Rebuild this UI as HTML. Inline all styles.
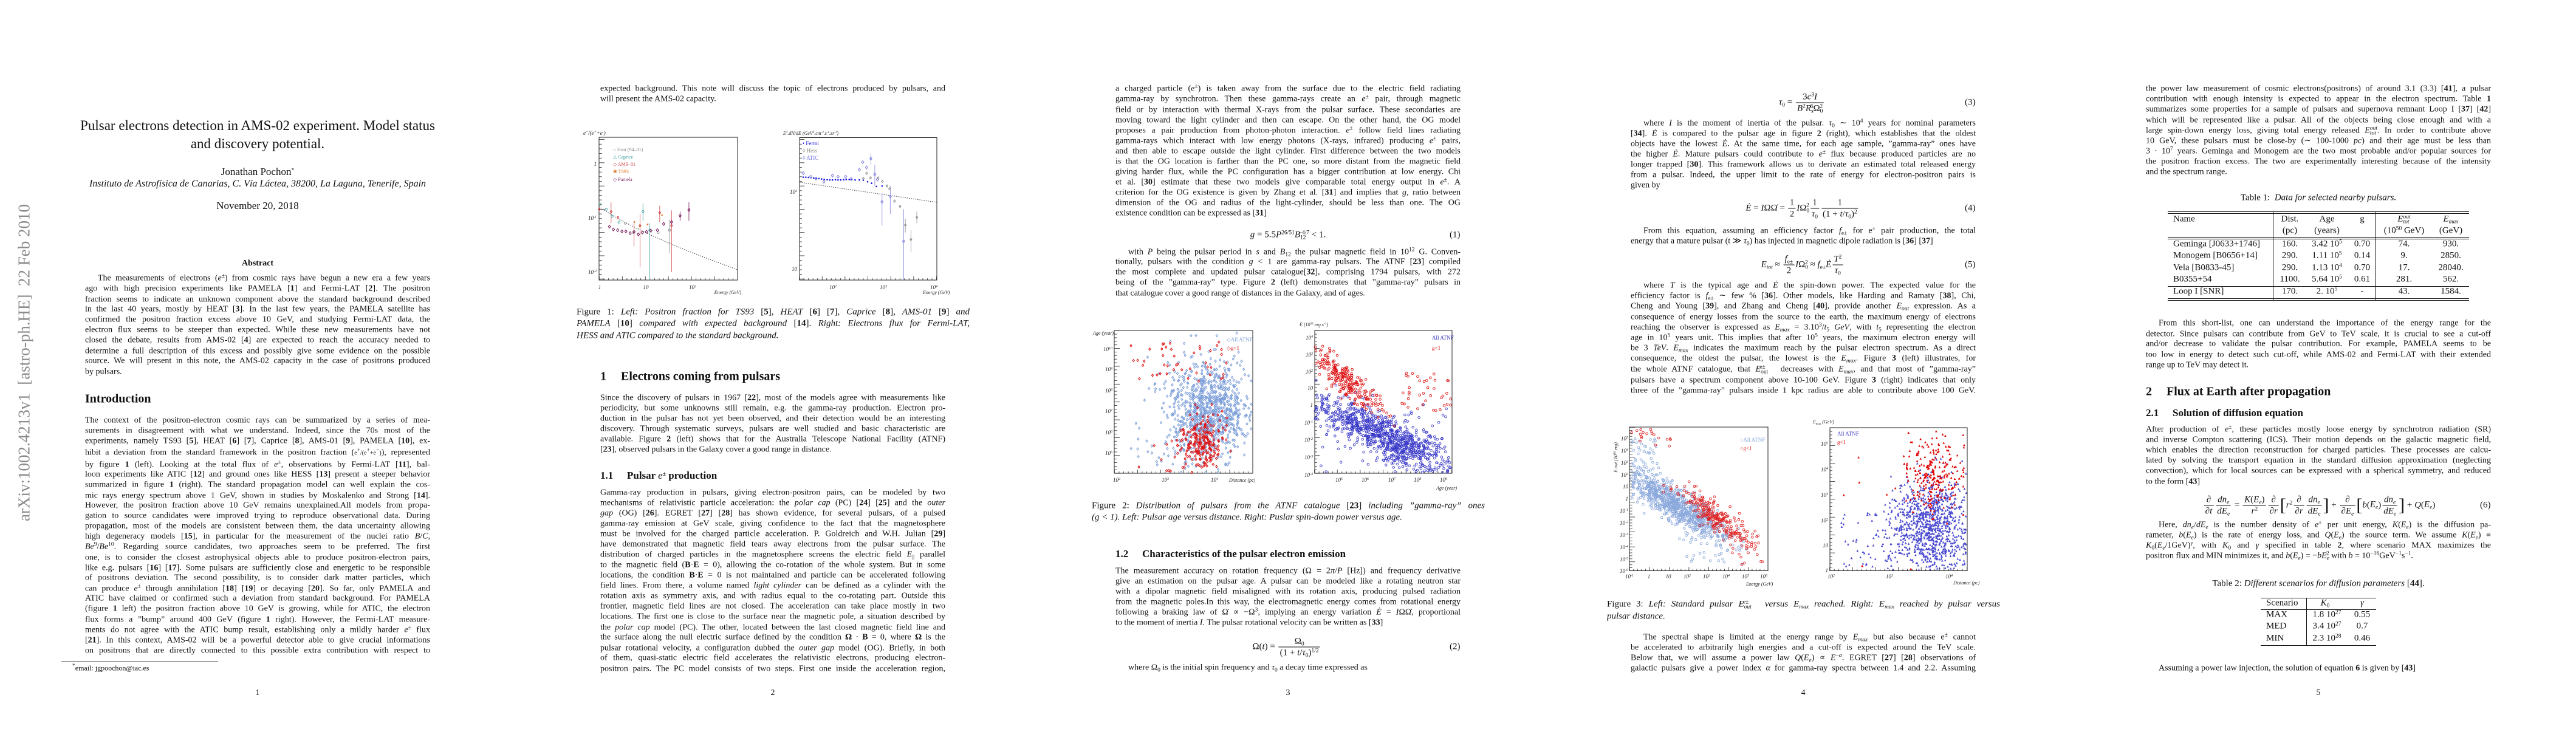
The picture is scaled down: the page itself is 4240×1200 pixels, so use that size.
<!DOCTYPE html>
<html><head><meta charset="utf-8">
<style>
html,body{margin:0;padding:0;background:#fff}
body{width:4240px;height:1200px;position:relative;overflow:hidden;font-family:"Liberation Serif","DejaVu Serif",serif;color:#111;font-size:14px}
.pg{position:absolute;top:0;width:848px;height:1200px}
.l{position:absolute;left:140px;width:568px;height:17px;line-height:17px;transform:translateY(-50%);text-align:justify;text-align-last:justify;overflow:hidden;white-space:normal}
.e{text-align-last:left}
.i{text-indent:21px}
.cap{left:101px;width:647px;font-size:15px;height:19px;line-height:19px}
sup{font-size:9.5px;line-height:0;vertical-align:5px}
sub{font-size:9.5px;line-height:0;vertical-align:-3px}
.c{position:absolute;transform:translate(-50%,-50%);white-space:nowrap}
.t{position:absolute;transform:translateY(-50%);white-space:nowrap}
.h1{font-size:20px;font-weight:bold}
.h2{font-size:17px;font-weight:bold}
.pn{position:absolute;left:424px;top:1141px;transform:translate(-50%,-50%);font-size:14px}
.fr{display:inline-block;vertical-align:middle;text-align:center;line-height:18px;margin:0 2px}
.fr>span{display:block;padding:0 2px}
.fr>span:first-child{border-bottom:1px solid #111}
.hr{position:absolute;height:0;border-top:1px solid #111}
.vr{position:absolute;width:0;border-left:1px solid #111}
.tb{font-size:15px}
svg text{font-family:"Liberation Serif",serif}
</style></head><body>

<!-- PAGE 1 -->
<div class="pg" style="left:0">
<div class="c" style="left:40px;top:597px;transform:translate(-50%,-50%) rotate(-90deg);font-size:27px;color:#8a8a8a">arXiv:1002.4213v1&nbsp;&nbsp;[astro-ph.HE]&nbsp;&nbsp;22 Feb 2010</div>
<div class="c" style="left:424px;top:207px;font-size:23px">Pulsar electrons detection in AMS-02 experiment. Model status</div>
<div class="c" style="left:424px;top:237px;font-size:23px">and discovery potential.</div>
<div class="c" style="left:424px;top:283px;font-size:17px">Jonathan Pochon<sup>*</sup></div>
<div class="c" style="left:424px;top:303px;font-size:16px;font-style:italic">Instituto de Astrofísica de Canarias, C. Vía Láctea, 38200, La Laguna, Tenerife, Spain</div>
<div class="c" style="left:424px;top:339px;font-size:17px">November 20, 2018</div>
<div class="c" style="left:424px;top:434px;font-size:14px;font-weight:bold">Abstract</div>
<div class="l i" style="top:458px">The measurements of electrons (<i>e</i><sup>±</sup>) from cosmic rays have begun a new era a few years</div>
<div class="l" style="top:475px">ago with high precision experiments like PAMELA [<b>1</b>] and Fermi-LAT [<b>2</b>]. The positron</div>
<div class="l" style="top:492.5px">fraction seems to indicate an unknown component above the standard background described</div>
<div class="l" style="top:509px">in the last 40 years, mostly by HEAT [<b>3</b>]. In the last few years, the PAMELA satellite has</div>
<div class="l" style="top:526px">confirmed the positron fraction excess above 10 GeV, and studying Fermi-LAT data, the</div>
<div class="l" style="top:543px">electron flux seems to be steeper than expected. While these new measurements have not</div>
<div class="l" style="top:560px">closed the debate, results from AMS-02 [<b>4</b>] are expected to reach the accuracy needed to</div>
<div class="l" style="top:577.5px">determine a full description of this excess and possibly give some evidence on the possible</div>
<div class="l" style="top:594px">source. We will present in this note, the AMS-02 capacity in the case of positrons produced</div>
<div class="l e" style="top:611.5px">by pulsars.</div>
<div class="t h1" style="left:140px;top:657px">Introduction</div>
<div class="l" style="top:691.8px">The context of the positron-electron cosmic rays can be summarized by a series of mea-</div>
<div class="l" style="top:709px">surements in disagreement with what we understand. Indeed, since the 70s most of the</div>
<div class="l" style="top:726.3px">experiments, namely TS93 [<b>5</b>], HEAT [<b>6</b>] [<b>7</b>], Caprice [<b>8</b>], AMS-01 [<b>9</b>], PAMELA [<b>10</b>], ex-</div>
<div class="l" style="top:745.4px">hibit a deviation from the standard framework in the positron fraction (<span style="font-size:10px">e<sup>+</sup>/(e<sup>+</sup>+e<sup>−</sup>)</span>), represented</div>
<div class="l" style="top:764.6px">by figure <b>1</b> (left). Looking at the total flux of <i>e</i><sup>±</sup>, observations by Fermi-LAT [<b>11</b>], bal-</div>
<div class="l" style="top:781.4px">loon experiments like ATIC [<b>12</b>] and ground ones like HESS [<b>13</b>] present a steeper behavior</div>
<div class="l" style="top:798.2px">summarized in figure <b>1</b> (right). The standard propagation model can well explain the cos-</div>
<div class="l" style="top:815.5px">mic rays energy spectrum above 1 GeV, shown in studies by Moskalenko and Strong [<b>14</b>].</div>
<div class="l" style="top:832.3px">However, the positron fraction above 10 GeV remains unexplained.All models from propa-</div>
<div class="l" style="top:849.1px">gation to source candidates were improved trying to reproduce observational data. During</div>
<div class="l" style="top:866.4px">propagation, most of the models are consistent between them, the data uncertainty allowing</div>
<div class="l" style="top:883.2px">high degeneracy models [<b>15</b>], in particular for the measurement of the nuclei ratio <i>B</i>/<i>C</i>,</div>
<div class="l" style="top:900.4px"><i>Be</i><sup>9</sup>/<i>Be</i><sup>10</sup>. Regarding source candidates, two approaches seem to be preferred. The first</div>
<div class="l" style="top:917.6px">one, is to consider the closest astrophysical objects able to produce positron-electron pairs,</div>
<div class="l" style="top:934.5px">like e.g. pulsars [<b>16</b>] [<b>17</b>]. Some pulsars are sufficiently close and energetic to be responsible</div>
<div class="l" style="top:951.3px">of positrons deviation. The second possibility, is to consider dark matter particles, which</div>
<div class="l" style="top:968.5px">can produce <i>e</i><sup>±</sup> through annihilation [<b>18</b>] [<b>19</b>] or decaying [<b>20</b>]. So far, only PAMELA and</div>
<div class="l" style="top:985.4px">ATIC have claimed or confirmed such a deviation from standard background. For PAMELA</div>
<div class="l" style="top:1002.2px">(figure <b>1</b> left) the positron fraction above 10 GeV is growing, while for ATIC, the electron</div>
<div class="l" style="top:1019.8px">flux forms a ”bump” around 400 GeV (figure <b>1</b> right). However, the Fermi-LAT measure-</div>
<div class="l" style="top:1036.7px">ments do not agree with the ATIC bump result, establishing only a mildly harder <i>e</i><sup>±</sup> flux</div>
<div class="l" style="top:1053.5px">[<b>21</b>]. In this context, AMS-02 will be a powerful detector able to give crucial informations</div>
<div class="l" style="top:1070.7px">on positrons that are directly connected to this possible extra contribution with respect to</div>
<div class="hr" style="left:101px;width:258px;top:1089px;border-top-width:1.5px"></div>
<div class="t" style="left:119px;top:1100px;font-size:12px"><sup>*</sup>email: jgpoochon@iac.es</div>
<div class="pn">1</div>
</div>

<!-- PAGE 2 -->
<div class="pg" style="left:848px">
<div class="l" style="top:146px">expected background. This note will discuss the topic of electrons produced by pulsars, and</div>
<div class="l e" style="top:163.4px">will present the AMS-02 capacity.</div>
<div class="l cap" style="top:514px">Figure 1: <i>Left: Positron fraction for TS93</i> [<b>5</b>], <i>HEAT</i> [<b>6</b>] [<b>7</b>], <i>Caprice</i> [<b>8</b>], <i>AMS-01</i> [<b>9</b>] <i>and</i></div>
<div class="l cap" style="top:533px"><i>PAMELA</i> [<b>10</b>] <i>compared with expected background</i> [<b>14</b>]. <i>Right: Electrons flux for Fermi-LAT,</i></div>
<div class="l cap e" style="top:553px"><i>HESS and ATIC compared to the standard background.</i></div>
<div class="t h1" style="left:140px;top:620px">1</div><div class="t h1" style="left:174px;top:620px">Electrons coming from pulsars</div>
<div class="l" style="top:654.7px">Since the discovery of pulsars in 1967 [<b>22</b>], most of the models agree with measurements like</div>
<div class="l" style="top:672px">periodicity, but some unknowns still remain, e.g. the gamma-ray production. Electron pro-</div>
<div class="l" style="top:688.8px">duction in the pulsar has not yet been observed, and their detection would be an interesting</div>
<div class="l" style="top:706px">discovery. Through systematic surveys, pulsars are well studied and basic characteristic are</div>
<div class="l" style="top:722.8px">available. Figure <b>2</b> (left) shows that for the Australia Telescope National Facility (ATNF)</div>
<div class="l e" style="top:740px">[<b>23</b>], observed pulsars in the Galaxy cover a good range in distance.</div>
<div class="t h2" style="left:140px;top:782.5px">1.1</div><div class="t h2" style="left:184px;top:782.5px">Pulsar <i style="font-weight:normal">e</i><sup>±</sup> production</div>
<div class="l" style="top:810.9px">Gamma-ray production in pulsars, giving electron-positron pairs, can be modeled by two</div>
<div class="l" style="top:828.1px">mechanisms of relativistic particle acceleration: the <i>polar cap</i> (PC) [<b>24</b>] [<b>25</b>] and the <i>outer</i></div>
<div class="l" style="top:844.9px"><i>gap</i> (OG) [<b>26</b>]. EGRET [<b>27</b>] [<b>28</b>] has shown evidence, for several pulsars, of a pulsed</div>
<div class="l" style="top:862.2px">gamma-ray emission at GeV scale, giving confidence to the fact that the magnetosphere</div>
<div class="l" style="top:879px">must be involved for the charged particle acceleration. P. Goldreich and W.H. Julian [<b>29</b>]</div>
<div class="l" style="top:895.8px">have demonstrated that magnetic field tears away electrons from the pulsar surface. The</div>
<div class="l" style="top:913px">distribution of charged particles in the magnetosphere screens the electric field <i>E</i><sub>||</sub> parallel</div>
<div class="l" style="top:929.9px">to the magnetic field (<b>B</b>·<b>E</b> = 0), allowing the co-rotation of the whole system. But in some</div>
<div class="l" style="top:947.1px">locations, the condition <b>B</b>·<b>E</b> = 0 is not maintained and particle can be accelerated following</div>
<div class="l" style="top:964px">field lines. From there, a volume named <i>light cylinder</i> can be defined as a cylinder with the</div>
<div class="l" style="top:981.2px">rotation axis as symmetry axis, and with radius equal to the co-rotating part. Outside this</div>
<div class="l" style="top:998.4px">frontier, magnetic field lines are not closed. The acceleration can take place mostly in two</div>
<div class="l" style="top:1015.2px">locations. The first one is close to the surface near the magnetic pole, a situation described by</div>
<div class="l" style="top:1032.5px">the <i>polar cap</i> model (PC). The other, located between the last closed magnetic field line and</div>
<div class="l" style="top:1049.3px">the surface along the null electric surface defined by the condition <b>Ω</b> · <b>B</b> = 0, where <b>Ω</b> is the</div>
<div class="l" style="top:1066.5px">pulsar rotational velocity, a configuration dubbed the <i>outer gap</i> model (OG). Briefly, in both</div>
<div class="l" style="top:1083.4px">of them, quasi-static electric field accelerates the relativistic electrons, producing electron-</div>
<div class="l" style="top:1100.6px">positron pairs. The PC model consists of two steps. First one inside the acceleration region,</div>
<div class="pn">2</div>
</div>

<!-- PAGE 3 -->
<div class="pg" style="left:1696px">
<div class="l" style="top:146.2px">a charged particle (<i>e</i><sup>±</sup>) is taken away from the surface due to the electric field radiating</div>
<div class="l" style="top:163.4px">gamma-ray by synchrotron. Then these gamma-rays create an <i>e</i><sup>±</sup> pair, through magnetic</div>
<div class="l" style="top:180.6px">field or by interaction with thermal X-rays from the pulsar surface. These secondaries are</div>
<div class="l" style="top:197.9px">moving toward the light cylinder and then can escape. On the other hand, the OG model</div>
<div class="l" style="top:214.7px">proposes a pair production from photon-photon interaction. <i>e</i><sup>±</sup> follow field lines radiating</div>
<div class="l" style="top:231.9px">gamma-rays which interact with low energy photons (X-rays, infrared) producing <i>e</i><sup>±</sup> pairs,</div>
<div class="l" style="top:248.8px">and then able to escape outside the light cylinder. First difference between the two models</div>
<div class="l" style="top:265.6px">is that the OG location is farther than the PC one, so more distant from the magnetic field</div>
<div class="l" style="top:282.8px">giving harder flux, while the PC configuration has a bigger contribution at low energy. Chi</div>
<div class="l" style="top:300px">et al. [<b>30</b>] estimate that these two models give comparable total energy output in <i>e</i><sup>±</sup>. A</div>
<div class="l" style="top:316.9px">criterion for the OG existence is given by Zhang et al. [<b>31</b>] and implies that <i>g</i>, ratio between</div>
<div class="l" style="top:333.7px">dimension of the OG and radius of the light-cylinder, should be less than one. The OG</div>
<div class="l e" style="top:350.9px">existence condition can be expressed as [<b>31</b>]</div>
<div class="c" style="left:424px;top:386.5px;font-size:15px"><i>g</i> = 5.5<i>P</i><sup>26/51</sup><i>B</i><sub>12</sub><sup style="margin-left:-12px">−4/7</sup> &lt; 1.</div>
<div class="t" style="left:690px;top:386.5px;font-size:15px">(1)</div>
<div class="l i" style="top:414.5px">with <i>P</i> being the pulsar period in <i>s</i> and <i>B</i><sub>12</sub> the pulsar magnetic field in 10<sup>12</sup> G. Conven-</div>
<div class="l" style="top:431.3px">tionally, pulsars with the condition <i>g</i> &lt; 1 are gamma-ray pulsars. The ATNF [<b>23</b>] compiled</div>
<div class="l" style="top:448.1px">the most complete and updated pulsar catalogue[<b>32</b>], comprising 1794 pulsars, with 272</div>
<div class="l" style="top:465.4px">being of the ”gamma-ray” type. Figure <b>2</b> (left) demonstrates that ”gamma-ray” pulsars in</div>
<div class="l e" style="top:482.6px">that catalogue cover a good range of distances in the Galaxy, and of ages.</div>
<div class="l cap" style="top:833px">Figure 2: <i>Distribution of pulsars from the ATNF catalogue</i> [<b>23</b>] <i>including ”gamma-ray” ones</i></div>
<div class="l cap e" style="top:852px"><i>(g &lt; 1). Left: Pulsar age versus distance. Right: Puslar spin-down power versus age.</i></div>
<div class="t h2" style="left:140px;top:912px">1.2</div><div class="t h2" style="left:184px;top:912px">Characteristics of the pulsar electron emission</div>
<div class="l" style="top:939.8px">The measurement accuracy on rotation frequency (Ω = 2<i>π</i>/<i>P</i> [Hz]) and frequency derivative</div>
<div class="l" style="top:957px">give an estimation on the pulsar age. A pulsar can be modeled like a rotating neutron star</div>
<div class="l" style="top:973.9px">with a dipolar magnetic field misaligned with its rotation axis, producing pulsed radiation</div>
<div class="l" style="top:991.1px">from the magnetic poles.In this way, the electromagnetic energy comes from rotational energy</div>
<div class="l" style="top:1008px">following a braking law of Ω̇ ∝ −Ω<sup>3</sup>, implying an energy variation <i>Ė</i> = <i>I</i>ΩΩ̇, proportional</div>
<div class="l e" style="top:1025.2px">to the moment of inertia <i>I</i>. The pulsar rotational velocity can be written as [<b>33</b>]</div>
<div class="c" style="left:422px;top:1065px;font-size:15px">Ω(<i>t</i>) = <span class="fr"><span>Ω<sub>0</sub></span><span>(1 + <i>t</i>/<i>τ</i><sub>0</sub>)<sup>1/2</sup></span></span></div>
<div class="t" style="left:690px;top:1065px;font-size:15px">(2)</div>
<div class="l i e" style="top:1099.4px">where Ω<sub>0</sub> is the initial spin frequency and <i>τ</i><sub>0</sub> a decay time expressed as</div>
<div class="pn">3</div>
</div>

<!-- PAGE 4 -->
<div class="pg" style="left:2544px">
<div class="c" style="left:422px;top:169px;font-size:15px"><i>τ</i><sub>0</sub> = <span class="fr"><span>3<i>c</i><sup>3</sup><i>I</i></span><span><i>B</i><sup>2</sup><i>R</i><sub>s</sub><sup style="margin-left:-5px">6</sup>Ω<sub>0</sub><sup style="margin-left:-5px">2</sup></span></span></div>
<div class="t" style="left:690px;top:169px;font-size:15px">(3)</div>
<div class="l i" style="top:202.8px">where <i>I</i> is the moment of inertia of the pulsar. <i>τ</i><sub>0</sub> ∼ 10<sup>4</sup> years for nominal parameters</div>
<div class="l" style="top:220px">[<b>34</b>]. <i>Ė</i> is compared to the pulsar age in figure <b>2</b> (right), which establishes that the oldest</div>
<div class="l" style="top:237.3px">objects have the lowest <i>Ė</i>. At the same time, for each age sample, ”gamma-ray” ones have</div>
<div class="l" style="top:254.1px">the higher <i>Ė</i>. Mature pulsars could contribute to <i>e</i><sup>±</sup> flux because produced particles are no</div>
<div class="l" style="top:271.3px">longer trapped [<b>30</b>]. This framework allows us to derivate an estimated total released energy</div>
<div class="l" style="top:288.2px">from a pulsar. Indeed, the upper limit to the rate of energy for electron-positron pairs is</div>
<div class="l e" style="top:305px">given by</div>
<div class="c" style="left:423px;top:342.5px;font-size:15px"><i>Ė</i> = <i>I</i>ΩΩ̇ = <span class="fr"><span>1</span><span>2</span></span><i>I</i>Ω<sub>0</sub><sup style="margin-left:-5px">2</sup><span class="fr"><span>1</span><span><i>τ</i><sub>0</sub></span></span><span class="fr"><span>1</span><span>(1 + <i>t</i>/<i>τ</i><sub>0</sub>)<sup>2</sup></span></span></div>
<div class="t" style="left:690px;top:342.5px;font-size:15px">(4)</div>
<div class="l i" style="top:379.6px">From this equation, assuming an efficiency factor <i>f</i><sub>e±</sub> for e<sup>±</sup> pair production, the total</div>
<div class="l e" style="top:396.5px">energy that a mature pulsar (t ≫ <i>τ</i><sub>0</sub>) has injected in magnetic dipole radiation is [<b>36</b>] [<b>37</b>]</div>
<div class="c" style="left:423px;top:436.3px;font-size:15px"><i>E<sub>tot</sub></i> ≈ <span class="fr"><span><i>f</i><sub>e±</sub></span><span>2</span></span><i>I</i>Ω<sub>0</sub><sup style="margin-left:-5px">2</sup> ≈ <i>f</i><sub>e±</sub><i>Ė</i><span class="fr"><span><i>T</i><sup>2</sup></span><span><i>τ</i><sub>0</sub></span></span></div>
<div class="t" style="left:690px;top:436.3px;font-size:15px">(5)</div>
<div class="l i" style="top:470.3px">where <i>T</i> is the typical age and <i>Ė</i> the spin-down power. The expected value for the</div>
<div class="l" style="top:487.2px">efficiency factor is <i>f</i><sub>e±</sub> ∼ few % [<b>36</b>]. Other models, like Harding and Ramaty [<b>38</b>], Chi,</div>
<div class="l" style="top:504.4px">Cheng and Young [<b>39</b>], and Zhang and Cheng [<b>40</b>], provide another <i>E<sub>out</sub></i> expression. As a</div>
<div class="l" style="top:521.6px">consequence of energy losses from the source to the earth, the maximum energy of electrons</div>
<div class="l" style="top:538.5px">reaching the observer is expressed as <i>E<sub>max</sub></i> = 3.10<sup>3</sup>/<i>t</i><sub>5</sub> <i>GeV</i>, with <i>t</i><sub>5</sub> representing the electron</div>
<div class="l" style="top:555.7px">age in 10<sup>5</sup> years unit. This implies that after 10<sup>5</sup> years, the maximum electron energy will</div>
<div class="l" style="top:572.5px">be 3 <i>TeV</i>. <i>E<sub>max</sub></i> indicates the maximum reach by the pulsar electron spectrum. As a direct</div>
<div class="l" style="top:589.7px">consequence, the oldest the pulsar, the lowest is the <i>E<sub>max</sub></i>. Figure <b>3</b> (left) illustrates, for</div>
<div class="l" style="top:608.4px">the whole ATNF catalogue, that <i>E</i><sub>out</sub><sup style="margin-left:-14px">e±</sup>&nbsp;&nbsp; decreases with <i>E<sub>max</sub></i>, and that most of ”gamma-ray”</div>
<div class="l" style="top:625.6px">pulsars have a spectrum component above 10-100 GeV. Figure <b>3</b> (right) indicates that only</div>
<div class="l" style="top:642.5px">three of the ”gamma-ray” pulsars inside 1 kpc radius are able to contribute above 100 GeV.</div>
<div class="l cap" style="top:995px">Figure 3: <i>Left: Standard pulsar E</i><sub><i>out</i></sub><sup style="margin-left:-14px"><i>e±</i></sup>&nbsp;&nbsp; <i>versus E<sub>max</sub> reached. Right: E<sub>max</sub> reached by pulsar versus</i></div>
<div class="l cap e" style="top:1014.5px"><i>pulsar distance.</i></div>
<div class="l i" style="top:1048.5px">The spectral shape is limited at the energy range by <i>E<sub>max</sub></i> but also because e<sup>±</sup> cannot</div>
<div class="l" style="top:1065.7px">be accelerated to arbitrarily high energies and a cut-off is expected around the TeV scale.</div>
<div class="l" style="top:1083px">Below that, we will assume a power law <i>Q</i>(<i>E<sub>e</sub></i>) ∝ <i>E</i><sup>−<i>α</i></sup>. EGRET [<b>27</b>] [<b>28</b>] observations of</div>
<div class="l" style="top:1099.8px">galactic pulsars give a power index <i>α</i> for gamma-ray spectra between 1.4 and 2.2. Assuming</div>
<div class="pn">4</div>
</div>

<!-- PAGE 5 -->
<div class="pg" style="left:3392px">
<div class="l" style="top:146.2px">the power law measurement of cosmic electrons(positrons) of around 3.1 (3.3) [<b>41</b>], a pulsar</div>
<div class="l" style="top:163.4px">contribution with enough intensity is expected to appear in the electron spectrum. Table <b>1</b></div>
<div class="l" style="top:180.3px">summarizes some properties for a sample of pulsars and supernova remnant Loop I [<b>37</b>] [<b>42</b>]</div>
<div class="l" style="top:197.5px">which will be represented like a pulsar. All of the objects being close enough and with a</div>
<div class="l" style="top:214.7px">large spin-down energy loss, giving total energy released <i>E</i><sub><i>tot</i></sub><sup style="margin-left:-10px"><i>out</i></sup>. In order to contribute above</div>
<div class="l" style="top:231.5px">10 GeV, these pulsars must be close-by (∼ 100-1000 <i>pc</i>) and their age must be less than</div>
<div class="l" style="top:248.8px">3 · 10<sup>7</sup> years. Geminga and Monogem are the two most probable and/or popular sources for</div>
<div class="l" style="top:265.6px">the positron fraction excess. The two are experimentally interesting because of the intensity</div>
<div class="l e" style="top:282.8px">and the spectrum range.</div>
<div class="c" style="left:424px;top:326px;font-size:15px">Table 1:&nbsp; <i>Data for selected nearby pulsars.</i></div>
<div class="hr" style="left:176px;width:496px;top:348px"></div>
<div class="hr" style="left:176px;width:496px;top:351px"></div>
<div class="hr" style="left:176px;width:496px;top:390px"></div>
<div class="hr" style="left:176px;width:496px;top:393px"></div>
<div class="hr" style="left:176px;width:496px;top:470.5px"></div>
<div class="hr" style="left:176px;width:496px;top:491px"></div>
<div class="hr" style="left:176px;width:496px;top:494px"></div>
<div class="vr" style="left:349px;top:348px;height:146px"></div>
<div class="vr" style="left:518px;top:348px;height:146px"></div>
<div class="tb">
<div class="t" style="left:185px;top:360.5px">Name</div>
<div class="c" style="left:377px;top:360.5px">Dist.</div><div class="c" style="left:438px;top:360.5px">Age</div><div class="c" style="left:496px;top:360.5px">g</div><div class="c" style="left:565px;top:360.5px"><i>E</i><sub><i>tot</i></sub><sup style="margin-left:-10px"><i>out</i></sup></div><div class="c" style="left:642px;top:360.5px"><i>E<sub>max</sub></i></div>
<div class="c" style="left:377px;top:379.6px">(pc)</div><div class="c" style="left:438px;top:379.6px">(years)</div><div class="c" style="left:565px;top:379.6px">(10<sup>50</sup> GeV)</div><div class="c" style="left:642px;top:379.6px">(GeV)</div>
<div class="t" style="left:185px;top:401.8px">Geminga [J0633+1746]</div><div class="c" style="left:377px;top:401.8px">160.</div><div class="c" style="left:438px;top:401.8px">3.42 10<sup>5</sup></div><div class="c" style="left:496px;top:401.8px">0.70</div><div class="c" style="left:565px;top:401.8px">74.</div><div class="c" style="left:642px;top:401.8px">930.</div>
<div class="t" style="left:185px;top:421px">Monogem [B0656+14]</div><div class="c" style="left:377px;top:421px">290.</div><div class="c" style="left:438px;top:421px">1.11 10<sup>5</sup></div><div class="c" style="left:496px;top:421px">0.14</div><div class="c" style="left:565px;top:421px">9.</div><div class="c" style="left:642px;top:421px">2850.</div>
<div class="t" style="left:185px;top:441px">Vela [B0833-45]</div><div class="c" style="left:377px;top:441px">290.</div><div class="c" style="left:438px;top:441px">1.13 10<sup>4</sup></div><div class="c" style="left:496px;top:441px">0.70</div><div class="c" style="left:565px;top:441px">17.</div><div class="c" style="left:642px;top:441px">28040.</div>
<div class="t" style="left:185px;top:460px">B0355+54</div><div class="c" style="left:377px;top:460px">1100.</div><div class="c" style="left:438px;top:460px">5.64 10<sup>5</sup></div><div class="c" style="left:496px;top:460px">0.61</div><div class="c" style="left:565px;top:460px">281.</div><div class="c" style="left:642px;top:460px">562.</div>
<div class="t" style="left:185px;top:479.5px">Loop I [SNR]</div><div class="c" style="left:377px;top:479.5px">170.</div><div class="c" style="left:438px;top:479.5px">2. 10<sup>5</sup></div><div class="c" style="left:496px;top:479.5px">-</div><div class="c" style="left:565px;top:479.5px">43.</div><div class="c" style="left:642px;top:479.5px">1584.</div>
</div>
<div class="l i" style="top:532.3px">From this short-list, one can understand the importance of the energy range for the</div>
<div class="l" style="top:549.6px">detector. Since pulsars can contribute from GeV to TeV scale, it is crucial to see a cut-off</div>
<div class="l" style="top:566.4px">and/or decrease to validate the pulsar contribution. For example, PAMELA seems to be</div>
<div class="l" style="top:583.6px">too low in energy to detect such cut-off, while AMS-02 and Fermi-LAT with their extended</div>
<div class="l e" style="top:600.8px">range up to TeV may detect it.</div>
<div class="t h1" style="left:140px;top:645px">2</div><div class="t h1" style="left:174px;top:645px">Flux at Earth after propagation</div>
<div class="t h2" style="left:140px;top:679.6px">2.1</div><div class="t h2" style="left:184px;top:679.6px">Solution of diffusion equation</div>
<div class="l" style="top:707px">After production of <i>e</i><sup>±</sup>, these particles mostly loose energy by synchrotron radiation (SR)</div>
<div class="l" style="top:724.4px">and inverse Compton scattering (ICS). Their motion depends on the galactic magnetic field,</div>
<div class="l" style="top:741.2px">which enables the direction reconstruction for charged particles. These processes are calcu-</div>
<div class="l" style="top:758.4px">lated by solving the transport equation in the standard diffusion approximation (neglecting</div>
<div class="l" style="top:775.3px">convection), which for local sources can be expressed with a spherical symmetry, and reduced</div>
<div class="l e" style="top:792.5px">to the form [<b>43</b>]</div>
<div class="c" style="left:425px;top:831.5px;font-size:15px"><span class="fr"><span>∂</span><span>∂<i>t</i></span></span><span class="fr"><span><i>dn<sub>e</sub></i></span><span><i>dE<sub>e</sub></i></span></span> = <span class="fr"><span><i>K</i>(<i>E<sub>e</sub></i>)</span><span><i>r</i><sup>2</sup></span></span><span class="fr"><span>∂</span><span>∂<i>r</i></span></span><span style="font-size:30px;vertical-align:middle">[</span><i>r</i><sup>2</sup><span class="fr"><span>∂</span><span>∂<i>r</i></span></span><span class="fr"><span><i>dn<sub>e</sub></i></span><span><i>dE<sub>e</sub></i></span></span><span style="font-size:30px;vertical-align:middle">]</span> + <span class="fr"><span>∂</span><span>∂<i>E<sub>e</sub></i></span></span><span style="font-size:30px;vertical-align:middle">[</span><i>b</i>(<i>E<sub>e</sub></i>)<span class="fr"><span><i>dn<sub>e</sub></i></span><span><i>dE<sub>e</sub></i></span></span><span style="font-size:30px;vertical-align:middle">]</span> + <i>Q</i>(<i>E<sub>e</sub></i>)</div>
<div class="t" style="left:690px;top:831.5px;font-size:15px">(6)</div>
<div class="l i" style="top:864px">Here, <i>dn<sub>e</sub></i>/<i>dE<sub>e</sub></i> is the number density of <i>e</i><sup>±</sup> per unit energy, <i>K</i>(<i>E<sub>e</sub></i>) is the diffusion pa-</div>
<div class="l" style="top:881.3px">rameter, <i>b</i>(<i>E<sub>e</sub></i>) is the rate of energy loss, and <i>Q</i>(<i>E<sub>e</sub></i>) the source term. We assume <i>K</i>(<i>E<sub>e</sub></i>) ≡</div>
<div class="l" style="top:898px"><i>K</i><sub>0</sub>(<i>E<sub>e</sub></i>/1GeV)<sup><i>γ</i></sup>, with <i>K</i><sub>0</sub> and <i>γ</i> specified in table <b>2</b>, where scenario MAX maximizes the</div>
<div class="l e" style="top:915.3px">positron flux and MIN minimizes it, and <i>b</i>(<i>E<sub>e</sub></i>) = −<i>bE</i><sub><i>e</i></sub><sup style="margin-left:-5px">2</sup> with <i>b</i> = 10<sup>−16</sup>GeV<sup>−1</sup>s<sup>−1</sup>.</div>
<div class="c" style="left:424px;top:960.5px;font-size:15px">Table 2: <i>Different scenarios for diffusion parameters</i> [<b>44</b>].</div>
<div class="hr" style="left:329px;width:190px;top:983.5px"></div>
<div class="hr" style="left:329px;width:190px;top:1003px"></div>
<div class="hr" style="left:329px;width:190px;top:1062px"></div>
<div class="vr" style="left:404px;top:983.5px;height:78.5px"></div>
<div class="tb">
<div class="t" style="left:338px;top:992.5px">Scenario</div><div class="c" style="left:435px;top:992.5px"><i>K</i><sub>0</sub></div><div class="c" style="left:496px;top:992.5px"><i>γ</i></div>
<div class="t" style="left:338px;top:1012px">MAX</div><div class="c" style="left:438px;top:1012px">1.8 10<sup>27</sup></div><div class="c" style="left:496px;top:1012px">0.55</div>
<div class="t" style="left:338px;top:1031px">MED</div><div class="c" style="left:438px;top:1031px">3.4 10<sup>27</sup></div><div class="c" style="left:496px;top:1031px">0.7</div>
<div class="t" style="left:338px;top:1051px">MIN</div><div class="c" style="left:438px;top:1051px">2.3 10<sup>28</sup></div><div class="c" style="left:496px;top:1051px">0.46</div>
</div>
<div class="l i e" style="top:1100px">Assuming a power law injection, the solution of equation <b>6</b> is given by [<b>43</b>]</div>
<div class="pn">5</div>
</div>

<!-- PLOTS -->
<svg id="sv" width="4240" height="1200" viewBox="0 0 4240 1200" style="position:absolute;left:0;top:0" xmlns="http://www.w3.org/2000/svg">
<g fill="none" stroke="#222" stroke-width="1">
<rect x="986" y="226" width="228" height="235"/>
<rect x="1316" y="226.5" width="226" height="234.5"/>
<rect x="1834" y="544" width="228" height="235"/>
<rect x="2164" y="544" width="226" height="235"/>
<rect x="2682" y="703" width="228" height="236.5"/>
<rect x="3012" y="704" width="226" height="235.5"/>
</g>
<g font-size="9" font-style="italic" fill="#222">
<text x="960" y="222">e<tspan font-size="6" dy="-3">+</tspan><tspan dy="3">/(e</tspan><tspan font-size="6" dy="-3">+</tspan><tspan dy="3">+e</tspan><tspan font-size="6" dy="-3">-</tspan><tspan dy="3">)</tspan></text>
<text x="982" y="273" text-anchor="end">1</text>
<text x="982" y="362" text-anchor="end">10<tspan font-size="6" dy="-3">-1</tspan></text>
<text x="982" y="451" text-anchor="end">10<tspan font-size="6" dy="-3">-2</tspan></text>
<text x="987" y="476" text-anchor="middle">1</text>
<text x="1063" y="476" text-anchor="middle">10</text>
<text x="1140" y="476" text-anchor="middle">10<tspan font-size="6" dy="-3">2</tspan></text>
<text x="1220" y="484" text-anchor="end" font-size="8">Energy (GeV)</text>
<g font-style="normal" font-family="Liberation Sans" font-size="8">
<text x="1009" y="249" fill="#888">○ Heat (94–01)</text>
<text x="1009" y="261" fill="#3a9a9a">△ Caprice</text>
<text x="1009" y="273" fill="#d04040">◇ AMS–01</text>
<text x="1009" y="285" fill="#e07020">✱ TS93</text>
<text x="1009" y="298" fill="#7a1a5a">◇ Pamela</text>
</g>
<text x="1289" y="222" font-size="8">E<tspan font-size="5" dy="-3">3</tspan><tspan dy="3">.dN/dE (GeV</tspan><tspan font-size="5" dy="-3">2</tspan><tspan dy="3">.cm</tspan><tspan font-size="5" dy="-3">-2</tspan><tspan dy="3">.s</tspan><tspan font-size="5" dy="-3">-1</tspan><tspan dy="3">.sr</tspan><tspan font-size="5" dy="-3">-1</tspan><tspan dy="3">)</tspan></text>
<text x="1312" y="319" text-anchor="end">10<tspan font-size="6" dy="-3">2</tspan></text>
<text x="1312" y="446" text-anchor="end">10</text>
<text x="1371" y="476" text-anchor="middle">10<tspan font-size="6" dy="-3">2</tspan></text>
<text x="1454" y="476" text-anchor="middle">10<tspan font-size="6" dy="-3">3</tspan></text>
<text x="1537" y="476" text-anchor="middle">10<tspan font-size="6" dy="-3">4</tspan></text>
<text x="1519" y="484" font-size="8">Energy (GeV)</text>
<g font-style="normal" font-family="Liberation Sans" font-size="9">
<text x="1321" y="239" fill="#1515e0">• Fermi</text>
<text x="1321" y="251" fill="#888">◊ Hess</text>
<text x="1321" y="263" fill="#7070e0">◊ ATIC</text>
</g>
<text x="1799" y="551" font-size="8">Age (year)</text>
<text x="1831" y="578" text-anchor="end">10<tspan font-size="6" dy="-3">10</tspan></text>
<text x="1831" y="611" text-anchor="end">10<tspan font-size="6" dy="-3">9</tspan></text>
<text x="1831" y="646" text-anchor="end">10<tspan font-size="6" dy="-3">8</tspan></text>
<text x="1831" y="680" text-anchor="end">10<tspan font-size="6" dy="-3">7</tspan></text>
<text x="1831" y="715" text-anchor="end">10<tspan font-size="6" dy="-3">6</tspan></text>
<text x="1831" y="749" text-anchor="end">10<tspan font-size="6" dy="-3">5</tspan></text>
<text x="1838" y="793" text-anchor="middle">10<tspan font-size="6" dy="-3">2</tspan></text>
<text x="1918" y="793" text-anchor="middle">10<tspan font-size="6" dy="-3">3</tspan></text>
<text x="1999" y="793" text-anchor="middle">10<tspan font-size="6" dy="-3">4</tspan></text>
<text x="2023" y="793" font-size="8">Distance (pc)</text>
<g font-style="normal" font-family="Liberation Sans" font-size="9">
<text x="2019" y="562" fill="#7d9fd9">◇All ATNF</text>
<text x="2019" y="576" fill="#dd1111">◇g&lt;1</text>
</g>
<text x="2139" y="537" font-size="8">Ė (10<tspan font-size="5" dy="-3">34</tspan><tspan dy="3"> erg.s</tspan><tspan font-size="5" dy="-3">-1</tspan><tspan dy="3">)</tspan></text>
<text x="2161" y="559" text-anchor="end">10<tspan font-size="6" dy="-3">4</tspan></text>
<text x="2161" y="587" text-anchor="end">10<tspan font-size="6" dy="-3">3</tspan></text>
<text x="2161" y="615" text-anchor="end">10<tspan font-size="6" dy="-3">2</tspan></text>
<text x="2161" y="642" text-anchor="end">10</text>
<text x="2161" y="670" text-anchor="end">1</text>
<text x="2161" y="699" text-anchor="end">10<tspan font-size="6" dy="-3">-1</tspan></text>
<text x="2161" y="727" text-anchor="end">10<tspan font-size="6" dy="-3">-2</tspan></text>
<text x="2161" y="756" text-anchor="end">10<tspan font-size="6" dy="-3">-3</tspan></text>
<text x="2161" y="785" text-anchor="end">10<tspan font-size="6" dy="-3">-4</tspan></text>
<text x="2204" y="793" text-anchor="middle">10<tspan font-size="6" dy="-3">5</tspan></text>
<text x="2247" y="793" text-anchor="middle">10<tspan font-size="6" dy="-3">6</tspan></text>
<text x="2291" y="793" text-anchor="middle">10<tspan font-size="6" dy="-3">7</tspan></text>
<text x="2333" y="793" text-anchor="middle">10<tspan font-size="6" dy="-3">8</tspan></text>
<text x="2376" y="793" text-anchor="middle">10<tspan font-size="6" dy="-3">9</tspan></text>
<text x="2364" y="806" font-size="8">Age (year)</text>
<g font-style="normal" font-family="Liberation Sans" font-size="9">
<text x="2357" y="559" fill="#3030c0">All ATNF</text>
<text x="2357" y="576" fill="#dd1111">g&lt;1</text>
</g>
<text transform="translate(2662,753) rotate(-90)" text-anchor="middle" font-size="8">E out (10<tspan font-size="5" dy="-3">34</tspan><tspan dy="3">.erg)</tspan></text>
<g text-anchor="end">
<text x="2680" y="725">10<tspan font-size="6" dy="-3">5</tspan></text>
<text x="2680" y="745">10<tspan font-size="6" dy="-3">4</tspan></text>
<text x="2680" y="765">10<tspan font-size="6" dy="-3">3</tspan></text>
<text x="2680" y="785">10<tspan font-size="6" dy="-3">2</tspan></text>
<text x="2680" y="804">10</text>
<text x="2680" y="824">1</text>
<text x="2680" y="844">10<tspan font-size="6" dy="-3">-1</tspan></text>
<text x="2680" y="864">10<tspan font-size="6" dy="-3">-2</tspan></text>
<text x="2680" y="884">10<tspan font-size="6" dy="-3">-3</tspan></text>
<text x="2680" y="904">10<tspan font-size="6" dy="-3">-4</tspan></text>
<text x="2680" y="924">10<tspan font-size="6" dy="-3">-5</tspan></text>
<text x="2680" y="943">10<tspan font-size="6" dy="-3">-6</tspan></text>
</g>
<g text-anchor="middle">
<text x="2682" y="952">10<tspan font-size="6" dy="-3">-1</tspan></text>
<text x="2714" y="952">1</text>
<text x="2746" y="952">10</text>
<text x="2777" y="952">10<tspan font-size="6" dy="-3">2</tspan></text>
<text x="2809" y="952">10<tspan font-size="6" dy="-3">3</tspan></text>
<text x="2841" y="952">10<tspan font-size="6" dy="-3">4</tspan></text>
<text x="2873" y="952">10<tspan font-size="6" dy="-3">5</tspan></text>
<text x="2903" y="952">10<tspan font-size="6" dy="-3">6</tspan></text>
</g>
<text x="2874" y="964" font-size="8">Energy (GeV)</text>
<g font-style="normal" font-family="Liberation Sans" font-size="9">
<text x="2864" y="727" fill="#8aa8dc">○All ATNF</text>
<text x="2864" y="741" fill="#e02020">○g&lt;1</text>
</g>
<text x="2984" y="697" font-size="8">E<tspan font-size="5" dy="2">max</tspan><tspan dy="-2"> (GeV)</tspan></text>
<g text-anchor="end">
<text x="3009" y="734">10<tspan font-size="6" dy="-3">5</tspan></text>
<text x="3009" y="776">10<tspan font-size="6" dy="-3">4</tspan></text>
<text x="3009" y="818">10<tspan font-size="6" dy="-3">3</tspan></text>
<text x="3009" y="860">10<tspan font-size="6" dy="-3">2</tspan></text>
<text x="3009" y="901">10</text>
<text x="3009" y="942">1</text>
</g>
<text x="3014" y="952" text-anchor="middle">10<tspan font-size="6" dy="-3">2</tspan></text>
<text x="3110" y="952" text-anchor="middle">10<tspan font-size="6" dy="-3">3</tspan></text>
<text x="3208" y="952" text-anchor="middle">10<tspan font-size="6" dy="-3">4</tspan></text>
<text x="3215" y="962" font-size="8">Distance (pc)</text>
<g font-style="normal" font-family="Liberation Sans" font-size="9">
<text x="3024" y="717" fill="#4040c8">All ATNF</text>
<text x="3024" y="731" fill="#e00000">g&lt;1</text>
</g>
</g>
<path d="M986,340 C1026,368 1092,400 1214,444" fill="none" stroke="#333" stroke-width="1" stroke-dasharray="1.5,2"/>
<path d="M1316,300 L1542,333" fill="none" stroke="#333" stroke-width="1" stroke-dasharray="1.5,2"/>
</svg>

<script>
(function(){
var S=document.getElementById('sv'),NS='http://www.w3.org/2000/svg';
function el(n,a){var e=document.createElementNS(NS,n);for(var k in a)e.setAttribute(k,a[k]);S.appendChild(e);return e;}
var seed=12345;function rnd(){seed=(seed*16807)%2147483647;return seed/2147483647;}
function g(){return Math.sqrt(-2*Math.log(rnd()+1e-9))*Math.cos(6.2832*rnd());}
function X(P,x){return P*848+x/1.85}function Y(y){return y/2.613}
function mk(P,x,y,t,c,b){if(b&&(x<b[0]||x>b[2]||y<b[1]||y>b[3]))return;var px=X(P,x),py=Y(y);
 if(t=='o')el('circle',{cx:px,cy:py,r:1.8,fill:'none',stroke:c,'stroke-width':0.9});
 else if(t=='f')el('circle',{cx:px,cy:py,r:1.3,fill:c});
 else if(t=='d')el('path',{d:'M'+px+','+(py-2)+'l1.6,2l-1.6,2l-1.6,-2z',fill:'none',stroke:c,'stroke-width':1});
 else if(t=='D')el('path',{d:'M'+px+','+(py-2.5)+'l2,2.5l-2,2.5l-2,-2.5z',fill:'none',stroke:c,'stroke-width':1});
 else if(t=='t')el('path',{d:'M'+px+','+(py-2.2)+'l1.8,3.6l-3.6,0z',fill:c});}
function ln(P,x0,y0,x1,y1,c){el('line',{x1:X(P,x0),y1:Y(y0),x2:X(P,x1),y2:Y(y1),stroke:c,'stroke-width':0.8});}
function band(P,n,x0,y0,x1,y1,sx,sy,t,c,b){for(var i=0;i<n;i++){var u=0.5+g()*0.3;var x=x0+(x1-x0)*u+g()*sx,y=y0+(y1-y0)*u+g()*sy;mk(P,x,y,t,c,b);}}
function blob(P,n,cx,cy,sx,sy,t,c,b){for(var i=0;i<n;i++)mk(P,cx+g()*sx,cy+g()*sy,t,c,b);}
function uni(P,n,xa,xb,ya,yb,t,c,b){for(var i=0;i<n;i++)mk(P,xa+rnd()*(xb-xa),ya+rnd()*(yb-ya),t,c,b);}
function ticksX(P,x0,x1,y,n){for(var i=0;i<=n;i++){var x=x0+(x1-x0)*i/n;ln(P,x,y,x,y-(i%5==0?16:8),'#222');}}
function ticksY(P,x,y0,y1,n){for(var i=0;i<=n;i++){var y=y0+(y1-y0)*i/n;ln(P,x,y,x+(i%5==0?16:8),y,'#222');}}
var P=1;
ticksX(P,256,677,1205,30);ticksY(P,256,600,1200,30);
[[380,920,1150,'#d04040'],[410,960,1205,'#40a0a0'],[476,905,1170,'#d04040'],[470,945,1090,'#888'],[292,870,960,'#d04040'],[389,875,950,'#40a0a0'],[529,870,950,'#7a1a5a'],[502,910,950,'#7a1a5a'],[362,950,1060,'#d04040'],[440,885,955,'#d04040']].forEach(function(a){ln(P,a[0],a[1],a[0],a[2],a[3]);});
[[256,900],[292,910],[313,935],[380,970],[440,915],[476,970]].forEach(function(p){mk(P,p[0],p[1],'d','#d04040');});
[[259,878],[277,900],[295,930],[316,955],[389,910],[410,990]].forEach(function(p){mk(P,p[0],p[1],'o','#40a0a0');});
[[335,960],[360,1000],[435,1000],[470,990]].forEach(function(p){mk(P,p[0],p[1],'o','#888');});
[[363,955],[380,975],[403,965],[447,925]].forEach(function(p){mk(P,p[0],p[1],'f','#e07020');});
[[287,975],[299,987],[312,990],[325,995],[337,995],[350,1003],[362,997],[375,1008],[387,1000],[400,997],[413,992],[433,990],[452,963],[476,955],[502,928],[529,903]].forEach(function(p){mk(P,p[0],p[1],'D','#7a1a5a');});
ticksX(P,865,1283,1205,30);ticksY(P,865,600,1200,30);
[[1183,900,1205,'#8080e0'],[1205,990,1085,'#888'],[1117,830,970,'#8080e0'],[1142,800,920,'#8080e0'],[1095,710,800,'#8080e0'],[1083,660,710,'#8080e0'],[1223,910,960,'#888'],[1188,940,1000,'#888']].forEach(function(a){ln(P,a[0],a[1],a[0],a[2],a[3]);});
[[877,762],[885,762],[893,763],[901,764],[909,766],[917,767],[925,768],[933,770],[941,772],[950,773],[958,774],[966,774],[975,773],[983,774],[991,774],[1000,773],[1008,772],[1017,772],[1025,773],[1035,774],[1048,774],[1060,775],[1073,782],[1085,788],[1100,802],[1117,800]].forEach(function(p){mk(P,p[0],p[1],'f','#1515e0');});
[[877,745],[900,760],[916,768],[940,782],[966,755],[983,760],[1006,760],[1023,770],[1048,730],[1058,698],[1070,720],[1083,682],[1095,750],[1103,772],[1117,868],[1142,845],[1183,1038]].forEach(function(p){mk(P,p[0],p[1],'D','#8080e0');});
[[1060,768],[1070,745],[1082,765],[1105,765],[1118,780],[1132,800],[1140,812],[1155,865],[1172,888],[1188,968],[1205,1030],[1223,935]].forEach(function(p){mk(P,p[0],p[1],'d','#888');});
P=2;var b1=[258,1424,675,2034],b2=[867,1424,1281,2034];
ticksX(P,256,677,2036,30);ticksY(P,256,1422,2036,40);ticksX(P,865,1283,2036,30);ticksY(P,865,1422,2036,40);
blob(P,900,540,1768,60,105,'d','#7d9fd9',b1);
uni(P,80,300,670,1500,2000,'d','#7d9fd9',b1);
blob(P,220,525,1900,35,55,'d','#dd1111',b1);
uni(P,45,300,600,1470,1640,'d','#dd1111',b1);
uni(P,10,280,670,1850,2030,'d','#dd1111',b1);
band(P,1000,900,1740,1270,2025,45,35,'o','#3838c8',b2);
uni(P,60,880,1280,1700,2030,'o','#3838c8',b2);
band(P,260,875,1520,1040,1745,20,22,'o','#dd1111',b2);
uni(P,40,1130,1280,1590,1770,'o','#dd1111',b2);
P=3;var b3=[258,1840,675,2453],b4=[867,1842,1281,2453];
ticksX(P,256,677,2455,35);ticksY(P,256,1838,2455,48);ticksX(P,865,1283,2455,30);ticksY(P,865,1840,2455,40);
band(P,900,270,2048,520,2288,30,28,'o','#8aa8dc',b3);
uni(P,40,262,340,1880,2050,'o','#8aa8dc',b3);
uni(P,30,420,560,2260,2420,'o','#8aa8dc',b3);
band(P,260,430,2128,620,2328,22,22,'o','#e02020',b3);
uni(P,20,262,380,1838,1940,'o','#e02020',b3);
uni(P,15,560,650,2268,2430,'o','#e02020',b3);
blob(P,1000,1180,2268,62,105,'t','#4848d0',b4);
uni(P,60,900,1100,2200,2450,'t','#4848d0',b4);
blob(P,250,1185,2045,45,90,'t','#e00000',b4);
[[908,2130],[953,1968],[955,2076],[1105,1862],[964,2435],[1112,2448]].forEach(function(p){mk(P,p[0],p[1],'t','#e00000');});
})();
</script>
</body></html>
